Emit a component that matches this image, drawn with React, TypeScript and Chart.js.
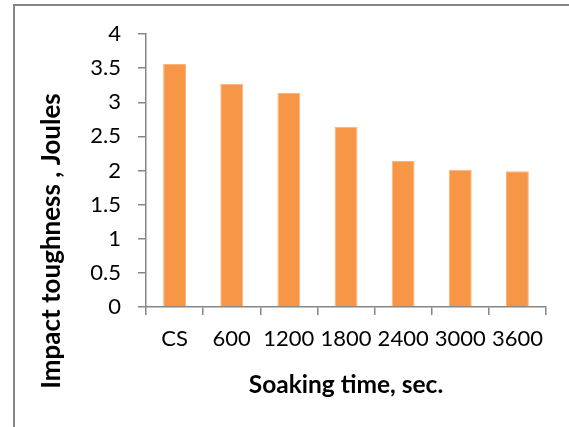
import { useEffect, useRef } from 'react';
import { Chart, registerables } from 'chart.js';

Chart.register(...registerables);

const categories = ['CS', '600', '1200', '1800', '2400', '3000', '3600'];
const toughness = [3.56, 3.27, 3.14, 2.64, 2.14, 2.01, 1.99];
const yMin = 0;
const yMax = 4;
const yStep = 0.5;
const xTitle = 'Soaking time, sec.';
const yTitle = 'Impact toughness , Joules';

const FONT = 'Lato, "Open Sans", sans-serif';
const AXIS_GRAY = '#868686';

// Outer frame around the chart (left and top edges visible)
const framePlugin = {
  id: 'frame',
  beforeDraw(chart: any) {
    const { ctx, width } = chart;
    ctx.save();
    ctx.strokeStyle = AXIS_GRAY;
    ctx.lineWidth = 2;
    ctx.beginPath();
    ctx.moveTo(14, chart.height + 2);
    ctx.lineTo(14, 5);
    ctx.lineTo(width + 2, 5);
    ctx.stroke();
    ctx.restore();
  },
};

// Vertical axis title, drawn rotated beside the value axis
const yTitlePlugin = {
  id: 'yTitle',
  afterDraw(chart: any) {
    const { ctx, chartArea } = chart;
    ctx.save();
    ctx.translate(52, chartArea.bottom - 66);
    ctx.rotate(-Math.PI / 2);
    ctx.font = `bold 26px ${FONT}`;
    ctx.fillStyle = '#000';
    ctx.textAlign = 'center';
    ctx.textBaseline = 'middle';
    ctx.fillText(yTitle, 0, 0);
    ctx.restore();
  },
};

export default function App() {
  const canvasRef = useRef<HTMLCanvasElement | null>(null);

  useEffect(() => {
    const canvas = canvasRef.current;
    if (!canvas) return;
    const chart = new Chart(canvas, {
      type: 'bar',
      data: {
        labels: categories,
        datasets: [
          {
            data: toughness,
            backgroundColor: '#F79646',
            borderColor: '#FBB47F',
            borderWidth: 1,
            barPercentage: 0.4,
            categoryPercentage: 1,
          },
        ],
      },
      options: {
        responsive: false,
        animation: false,
        devicePixelRatio: 1,
        layout: { padding: { left: 14, right: 23, top: 34, bottom: 0 } },
        plugins: {
          legend: { display: false },
          tooltip: { enabled: false },
        },
        scales: {
          x: {
            afterFit(scale: any) {
              scale.height = 120;
            },
            grid: {
              display: true,
              drawOnChartArea: false,
              drawTicks: true,
              tickLength: 8,
              color: AXIS_GRAY,
              lineWidth: 1.5,
              offset: true,
            },
            border: { display: true, color: AXIS_GRAY, width: 1.5 },
            ticks: {
              color: '#000',
              font: { family: FONT, size: 22 },
              padding: 11,
              maxRotation: 0,
              autoSkip: false,
            },
            title: {
              display: true,
              text: xTitle,
              color: '#000',
              font: { family: FONT, size: 24.5, weight: 'bold' },
              padding: { top: 0, bottom: 27 },
            },
          },
          y: {
            min: yMin,
            max: yMax,
            afterFit(scale: any) {
              scale.width = 132;
            },
            grid: {
              display: true,
              drawOnChartArea: false,
              drawTicks: true,
              tickLength: 8,
              color: AXIS_GRAY,
              lineWidth: 1.5,
            },
            border: { display: true, color: AXIS_GRAY, width: 1.5 },
            ticks: {
              stepSize: yStep,
              color: '#000',
              font: { family: FONT, size: 22 },
              padding: 17,
              callback: (value: any) => String(Number(value)),
            },
          },
        },
      },
      plugins: [framePlugin, yTitlePlugin],
    });
    return () => chart.destroy();
  }, []);

  return (
    <div
      style={{
        position: 'absolute',
        left: 0,
        top: 0,
        width: 569,
        height: 427,
        overflow: 'hidden',
        background: '#fff',
      }}
    >
      <canvas ref={canvasRef} width={569} height={427} />
    </div>
  );
}
